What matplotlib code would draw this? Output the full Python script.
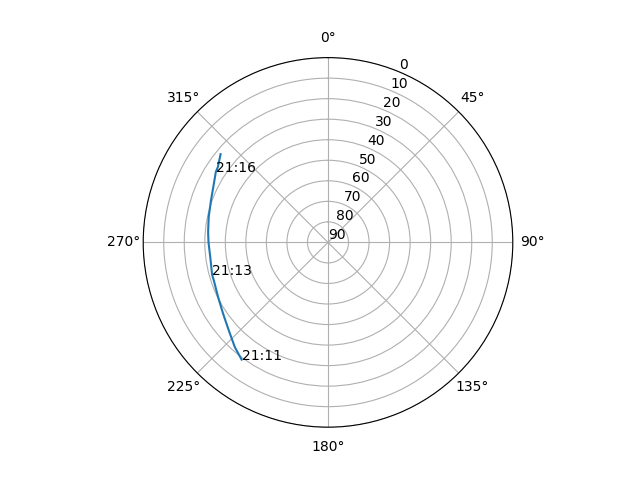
import numpy as np
import matplotlib
matplotlib.use("Agg")
import matplotlib.pyplot as plt

# satellite pass: azimuth (deg, clockwise from N) and elevation (deg)
azimuth = [216.4, 221.6, 228.4, 235.7, 243.5, 251.6, 254.4, 262.1, 270.1,
           274.9, 282.0, 290.0, 297.2, 302.1, 304.4, 309.4]
elevation = [19.1, 21.7, 25.4, 28.2, 30.2, 31.4, 31.4, 32.2, 31.8,
             31.4, 30.6, 29.4, 27.5, 25.5, 25.0, 22.3]
time_labels = {0: "21:11", 6: "21:13", 13: "21:16"}

fig = plt.figure(figsize=(6.4, 4.8), dpi=100)
ax = fig.add_subplot(projection="polar")
ax.set_theta_zero_location("N")
ax.set_theta_direction(-1)
ax.plot(np.radians(azimuth), elevation)
for i, lab in time_labels.items():
    ax.text(np.radians(azimuth[i]), elevation[i], lab)
ax.set_yticks(range(0, 91, 10))
ax.set_ylim(90, 0)
plt.savefig("out.png")
